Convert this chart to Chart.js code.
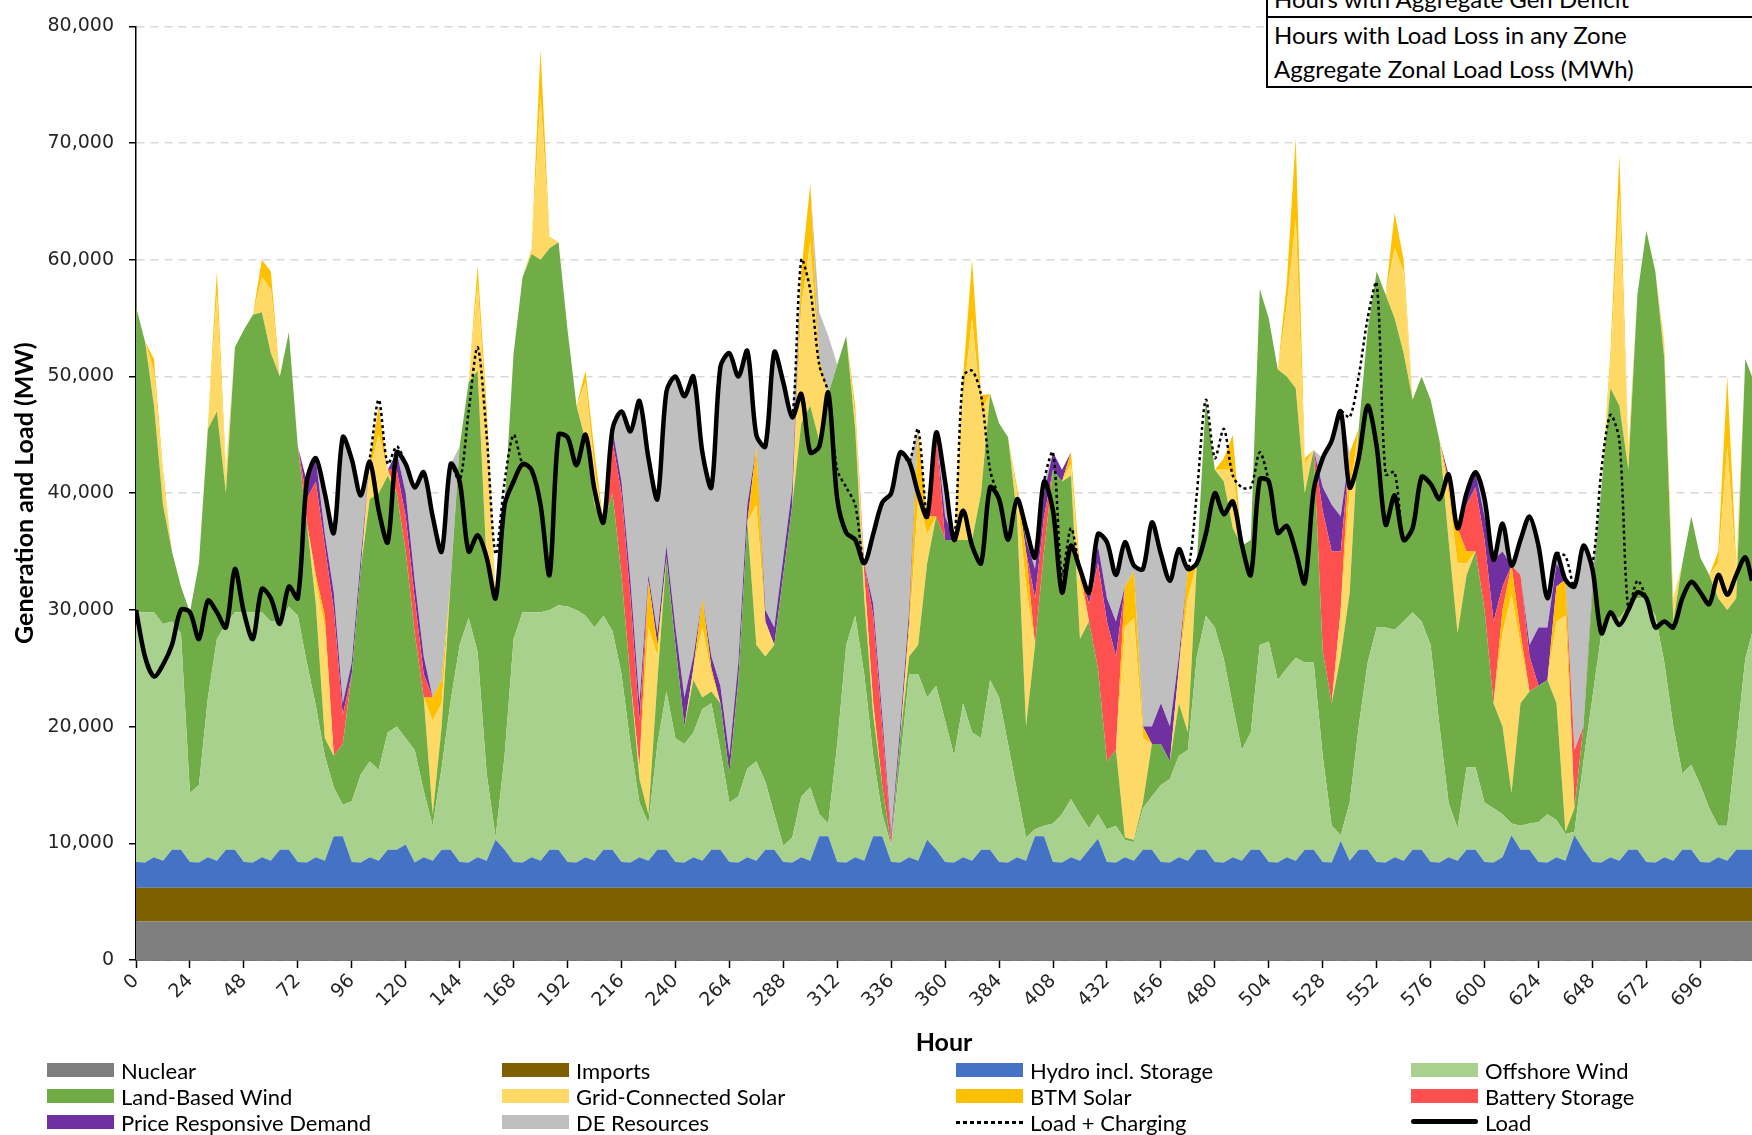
<!DOCTYPE html>
<html>
<head>
<meta charset="utf-8">
<title>Generation and Load</title>
<script src="https://cdn.jsdelivr.net/npm/chart.js@4.4.1/dist/chart.umd.min.js"></script>
<style>
  html, body { margin: 0; padding: 0; background: #fff; }
  #wrap { position: relative; width: 1752px; height: 1135px; overflow: hidden; }
  #chart { position: absolute; left: 0; top: 0; }
  #stats { position: absolute; left: 1266px; top: -16px; width: 620px; background: #fff;
           border-left: 2px solid #000; border-bottom: 2px solid #000; font: 24px Lato, sans-serif; color: #000; }
  #stats div { height: 34px; line-height: 34px; padding-left: 6px; white-space: nowrap; }
  #stats div.first { height: 32px; line-height: 30px; border-bottom: 2px solid #000; }
  .key { position: absolute; height: 26px; line-height: 26px; font: 22px Lato, sans-serif; color: #000; white-space: nowrap; }
  .key .sw { position: absolute; left: 0; top: 6px; width: 67px; height: 14px; }
  .key .sw.dots { top: 12px; height: 3px; background: repeating-linear-gradient(90deg, #000 0 4px, transparent 4px 7px); }
  .key .sw.solid { top: 10px; height: 5px; border-radius: 3px; background: #000; }
  .key .txt { position: absolute; left: 74px; top: 0; }
</style>
</head>
<body>
<div id="wrap">
  <canvas id="chart" width="1752" height="1135"></canvas>
  <div id="stats">
    <div class="first">Hours with Aggregate Gen Deficit</div>
    <div>Hours with Load Loss in any Zone</div>
    <div>Aggregate Zonal Load Loss (MWh)</div>
  </div>
  <div id="legend"></div>
</div>
<script>
// hour of the month, sampled every 4 hours (last point at the right edge)
var hours = [];
for (var h = 0; h <= 716; h += 4) hours.push(h);
hours.push(719);

// flat baseload blocks (MW)
var NUCLEAR_MW = 3300;
var IMPORTS_MW = 2900;

// one row per day: hours +0, +4, +8, +12, +16, +20 (MW)
var hydro = [
  2200,2150,2600,2300,3250,3250,
  2200,2150,2600,2300,3250,3250,
  2200,2150,2600,2300,3250,3250,
  2200,2150,2600,2300,4400,4400,
  2200,2150,2600,2300,3250,3250,
  3700,2150,2600,2300,3250,3250,
  2200,2150,2600,2300,4100,3250,
  2200,2150,2600,2300,3250,3250,
  2200,2150,2600,2300,3250,3250,
  2200,2150,2600,2300,3250,3250,
  2200,2150,2600,2300,3250,3250,
  2200,2150,2600,2300,3250,3250,
  2200,2150,2600,2300,4400,4400,
  2200,2150,2600,2300,4400,4400,
  2200,2150,2600,2300,4100,3250,
  2200,2150,2600,2300,3250,3250,
  2200,2150,2600,2300,4400,4400,
  2200,2150,2600,2300,3250,4200,
  2200,2150,2600,2300,3250,3250,
  2200,2150,2600,2300,3250,3250,
  2200,2150,2600,2300,3250,3250,
  2200,2150,2600,2300,3250,3250,
  2200,2150,4000,2300,3250,3250,
  2200,2150,2600,2300,3250,3250,
  2200,2150,2600,2300,3250,3250,
  2200,2150,2600,4500,3250,3250,
  2200,2150,2600,2300,4500,3250,
  2200,2150,2600,2300,3250,3250,
  2200,2150,2600,2300,3250,3250,
  2200,2150,2600,2300,3250,3250,
  3250
];

var offshoreWind = [
  21400,21450,21000,20300,19550,18550,
  5900,6650,13700,19000,19350,20350,
  21400,21450,21000,20500,19550,20850,
  21100,17150,13000,9000,4200,2700,
  5200,7550,8200,7800,10050,10550,
  9100,9650,5700,3000,7050,12750,
  18600,20950,17600,7500,200,8050,
  19100,21450,21000,21300,20550,20950,
  21900,21650,20700,20000,20050,18750,
  16100,10150,4700,3200,9050,13550,
  10600,10150,10700,13000,12550,8550,
  5100,5650,7600,8500,5850,3050,
  1400,2150,5200,6300,1900,1100,
  10100,18650,20700,16000,6900,1900,
  1400,8650,15700,16000,12200,14050,
  12100,9150,13200,11000,9550,14550,
  14100,10150,5700,2000,600,900,
  3300,4150,5000,4000,1850,2100,
  2800,3150,1500,1600,3550,4550,
  6600,7150,8700,9500,16550,20050,
  20100,17450,13000,9500,10050,17550,
  18900,15650,16200,17400,16050,16050,
  9100,3150,500,5000,10550,16050,
  20100,20150,19500,20500,20350,19550,
  18600,11650,4700,2800,7050,7050,
  5100,4650,3700,1000,2050,2250,
  3400,4150,3200,2300,300,7550,
  14100,19650,20700,20800,20850,21550,
  22600,21150,16700,11500,6550,7250,
  6600,4650,2700,3000,9050,16350,
  18550
];

var landWind = [
  26200,23200,17700,10200,6000,4000,
  15500,19000,23000,19500,11200,22700,
  24200,25500,25700,23000,21000,23500,
  14500,12000,8700,1500,2700,5200,
  10900,17600,22500,23700,22000,20000,
  16000,10000,8000,1000,3500,10300,
  17000,20200,24100,18000,20500,21500,
  24500,28700,30700,30200,31000,31100,
  23700,17500,15000,10500,8000,11800,
  8500,5500,2000,800,5500,11500,
  8000,1500,4500,1000,1000,4000,
  2500,10000,21100,10000,10700,14500,
  23200,28500,32000,32700,32000,36800,
  32500,26500,16000,6500,3500,2500,
  0,2000,1500,2500,11500,14500,
  15500,18500,14000,16500,21000,24500,
  23500,26300,23500,9500,15800,23500,
  30300,28500,27700,15000,17700,12500,
  5800,6500,200,200,500,4500,
  3500,1500,4500,1500,8000,18500,
  13500,15200,15200,17500,16500,30500,
  27700,26600,25000,23100,14500,18200,
  9000,10500,15300,18000,25500,28500,
  30500,28500,26700,23000,18200,21000,
  21000,24500,22500,16700,16500,18500,
  16500,9000,7500,2600,10500,11300,
  11700,11500,10000,200,2000,3000,
  9000,12500,19500,18200,11700,26000,
  31500,29500,26000,9000,18000,21300,
  19500,20000,19500,18500,12500,25700,
  22000
];

var gridSolar = [
  0,0,3000,2500,0,0,
  0,0,500,10000,1500,0,
  0,0,3000,5500,0,0,
  0,0,2000,9500,0,0,
  0,0,2500,5000,500,0,
  0,0,0,8000,2000,0,
  0,0,7500,12000,500,0,
  0,0,500,14000,1000,0,
  0,0,5000,3000,0,0,
  0,0,1000,16000,2000,0,
  0,0,1000,6000,1500,0,
  0,0,0,12000,3000,0,
  0,0,10000,14000,6000,0,
  0,0,1000,2000,1000,0,
  0,0,2000,12500,2500,0,
  0,0,12000,19000,7000,0,
  0,0,2000,12000,0,0,
  0,0,1000,5000,0,0,
  0,0,18000,19000,5500,0,
  0,0,3000,11500,0,0,
  0,1000,5000,0,0,0,
  0,0,6000,14500,2500,0,
  0,0,4000,8500,0,0,
  0,0,6000,7000,0,0,
  0,0,4000,6000,1000,0,
  0,0,8000,17000,5000,0,
  0,0,7000,18500,0,0,
  0,0,2000,18000,2000,0,
  0,0,1500,2000,0,0,
  0,0,3000,14000,2500,0,
  0
];

var btmSolar = [
  0,0,1000,500,0,0,
  0,0,0,2000,500,0,
  0,0,1500,1500,0,0,
  0,0,500,1000,0,0,
  0,0,700,2500,0,0,
  0,0,0,2000,2000,0,
  0,0,1500,1500,0,0,
  0,0,0,4000,0,0,
  0,0,1000,1500,0,0,
  0,0,0,4000,1000,0,
  0,0,0,2500,500,0,
  0,0,0,5000,0,0,
  0,0,3000,5000,1000,0,
  0,0,1000,0,0,0,
  0,0,1000,6000,1500,0,
  0,0,2000,5000,1400,0,
  0,0,500,3000,0,0,
  0,0,1000,1000,0,0,
  0,0,3500,4000,1000,0,
  0,0,0,2500,0,0,
  0,1000,3000,0,0,0,
  0,0,2000,7000,500,0,
  0,0,0,3500,0,0,
  0,0,3000,1000,0,0,
  0,0,1000,3000,1000,0,
  0,0,2000,2500,1000,0,
  0,0,3000,3100,0,0,
  0,0,1000,3500,0,0,
  0,0,0,0,0,0,
  0,0,1000,6000,500,0,
  0
];

var battery = [
  0,0,0,0,0,0,
  0,0,0,0,0,0,
  0,0,0,0,0,0,
  0,2000,8000,6000,12500,2500,
  0,0,0,0,0,2000,
  3000,3000,2000,0,0,0,
  0,0,0,0,0,0,
  0,0,0,0,0,0,
  0,0,0,0,0,4500,
  7000,7000,4000,0,0,0,
  0,0,0,0,0,0,
  0,0,0,0,0,0,
  0,0,0,0,0,0,
  0,0,0,1000,7500,5000,
  500,0,0,0,0,7200,
  0,0,0,0,0,0,
  0,0,0,0,4000,3000,
  0,0,0,0,1500,9000,
  12000,8000,0,0,0,0,
  0,0,0,0,0,0,
  0,0,0,0,0,0,
  0,0,0,0,0,0,
  12000,13000,5000,0,0,0,
  0,0,0,0,0,0,
  0,0,0,0,4000,5500,
  6000,7000,2000,0,5000,3000,
  0,0,0,0,5000,0,
  0,0,0,0,0,0,
  0,0,0,0,0,0,
  0,0,0,0,0,0,
  0
];

var priceResponsive = [
  0,0,0,0,0,0,
  0,0,0,0,0,0,
  0,0,0,0,0,0,
  0,1500,2000,1000,1500,1000,
  1000,1000,0,0,0,1500,
  2000,1500,1500,0,0,0,
  0,0,0,0,0,0,
  0,0,0,0,0,0,
  0,0,0,0,0,1000,
  1000,1500,1500,500,1000,1000,
  1500,2500,1000,0,1000,1500,
  1500,1500,1500,0,1000,1500,
  1500,1500,0,0,0,0,
  0,0,0,0,1000,1000,
  500,1000,1000,0,0,0,
  2000,0,0,0,0,0,
  0,0,0,1000,2500,2000,
  1500,1000,0,0,1000,1500,
  2000,3000,0,0,0,1500,
  3500,3000,1000,0,0,0,
  0,0,0,0,0,0,
  0,0,0,0,0,0,
  2000,4000,3000,0,0,0,
  0,0,0,0,0,0,
  0,0,600,0,1000,1300,
  2000,5300,3000,0,0,1000,
  5000,4500,2000,0,0,0,
  500,0,0,0,0,0,
  0,0,0,0,0,0,
  0,0,0,0,0,0,
  0
];

var deResources = [
  0,0,0,0,0,0,
  0,0,0,0,0,0,
  0,0,0,0,0,0,
  0,0,0,3500,5100,22800,
  17400,5300,0,0,0,0,
  2500,8000,15800,15500,11000,10000,
  0,0,0,0,0,0,
  0,0,0,0,0,0,
  0,0,0,0,0,0,
  6000,12800,25900,10000,11500,13200,
  21500,25800,24000,12500,14500,27300,
  34500,24500,13200,1000,14000,23600,
  15000,6000,0,0,4000,5000,
  0,0,0,0,6000,18200,
  29200,23500,12700,0,0,0,
  3000,0,0,0,0,0,
  0,0,0,1000,1000,1000,
  0,0,0,0,0,1000,
  4800,4000,3800,500,13500,17500,
  12800,12500,9200,0,0,0,
  0,0,0,0,0,0,
  0,0,0,0,0,0,
  2500,5500,9000,0,0,0,
  0,0,0,0,0,0,
  0,0,0,0,0,0,
  1500,0,2400,0,3000,11000,
  7000,2500,800,0,14000,15500,
  1500,0,0,0,0,0,
  0,0,0,0,0,0,
  0,0,0,0,0,0,
  0
];

var load = [
  30000,26000,24300,25300,27000,30000,
  29800,27500,30800,29800,28500,33500,
  29800,27500,31800,31000,28800,32000,
  31000,41000,43000,40000,36600,44800,
  42900,39800,42700,38500,35800,43500,
  42500,40500,41800,38000,35000,42500,
  41000,35000,36400,34500,31000,39000,
  41000,42500,42000,39000,33000,45000,
  44800,42400,45000,40300,37500,45500,
  47000,45300,47900,43000,39500,48700,
  50000,48300,50000,43500,40500,50800,
  52000,50000,52200,45000,44000,52100,
  49500,46500,48500,43500,44000,48600,
  39500,36600,36000,34000,36500,39200,
  40000,43500,42700,40000,38000,45200,
  41000,36000,38500,35500,34000,40500,
  39500,36000,39500,37000,34500,41000,
  38500,31500,35500,33500,31500,36500,
  35800,33000,35800,33800,33500,37500,
  34800,32500,35200,33500,34000,36500,
  40000,38200,39300,35600,33000,41200,
  41000,36600,37200,35000,32300,40300,
  43000,44500,47000,40500,43000,47500,
  44000,37300,39800,36000,37000,41400,
  40800,39500,41600,37000,40000,41800,
  39500,34300,37400,33800,36000,38000,
  35500,31000,34800,32600,32000,35500,
  33500,28000,29800,28700,30000,31500,
  31000,28500,29000,28500,31000,32400,
  31500,30500,33000,31300,33000,34500,
  32500
];

// storage charging on top of load (MW)
var charging = [
  0,0,0,0,0,0,
  0,0,0,0,0,0,
  0,0,0,0,0,0,
  0,0,0,0,0,0,
  0,0,300,9500,6700,500,
  0,0,0,0,0,0,
  0,12000,16100,10500,3800,2000,
  4000,0,0,0,0,0,
  0,0,0,0,0,0,
  0,0,0,0,0,0,
  0,0,0,0,0,0,
  0,0,0,0,0,0,
  0,0,11500,13900,7000,0,
  2500,3900,3000,0,0,0,
  0,0,0,5500,0,0,
  0,0,11500,15000,14400,1500,
  0,0,0,0,0,0,
  5000,1500,1500,0,0,0,
  0,0,0,0,0,0,
  0,0,0,0,6000,11500,
  3000,7300,2200,4900,7500,2300,
  0,0,0,0,0,0,
  0,0,0,6000,7000,7500,
  14000,4300,2000,0,0,0,
  0,0,0,0,0,0,
  0,0,0,0,0,0,
  0,0,0,2000,0,0,
  500,14000,16900,15800,0,1000,
  0,0,0,0,0,0,
  0,0,0,0,0,0,
  0
];

var nuclear = hours.map(function () { return NUCLEAR_MW; });
var imports = hours.map(function () { return IMPORTS_MW; });
var loadPlusCharging = load.map(function (v, i) { return v + charging[i]; });

function area(label, color, values, first) {
  return {
    label: label, data: values,
    backgroundColor: color, borderColor: color, borderWidth: 0,
    fill: first ? 'origin' : '-1',
    pointRadius: 0, tension: 0, stack: 'gen', order: 2
  };
}

var config = {
  type: 'line',
  data: {
    labels: hours,
    datasets: [
      area('Nuclear', '#7f7f7f', nuclear, true),
      area('Imports', '#7f6000', imports),
      area('Hydro incl. Storage', '#4472c4', hydro),
      area('Offshore Wind', '#a9d18e', offshoreWind),
      area('Land-Based Wind', '#70ad47', landWind),
      area('Grid-Connected Solar', '#ffd966', gridSolar),
      area('BTM Solar', '#ffc000', btmSolar),
      area('Battery Storage', '#ff5050', battery),
      area('Price Responsive Demand', '#7030a0', priceResponsive),
      area('DE Resources', '#bfbfbf', deResources),
      {
        label: 'Load + Charging', data: loadPlusCharging,
        borderColor: '#000', borderWidth: 2.5, borderDash: [3, 3],
        fill: false, pointRadius: 0, tension: 0.3, stack: 'lc', order: 1
      },
      {
        label: 'Load', data: load,
        borderColor: '#000', borderWidth: 4.5,
        fill: false, pointRadius: 0, tension: 0.3, stack: 'load', order: 0
      }
    ]
  },
  options: {
    responsive: false,
    animation: false,
    layout: { padding: { left: 0, right: 0, top: 18, bottom: 77 } },
    plugins: {
      legend: { display: false },
      tooltip: { enabled: false }
    },
    scales: {
      x: {
        type: 'linear', min: 0, max: 719,
        afterFit: function (scale) { scale.height = 98; },
        ticks: {
          stepSize: 24, includeBounds: false, autoSkip: false,
          minRotation: 45, maxRotation: 45, padding: 2,
          font: { family: 'DejaVu Sans', size: 19 }, color: '#262626'
        },
        grid: { drawOnChartArea: false, drawTicks: true, tickLength: 8, tickColor: '#000', tickWidth: 1.5 },
        border: { display: true, color: '#000', width: 1.5 },
        title: {
          display: true, text: 'Hour', color: '#000',
          font: { family: 'Lato', size: 25, weight: 'bold' },
          padding: { top: 0, bottom: 0 }
        }
      },
      y: {
        stacked: true, min: 0, max: 80000,
        afterFit: function (scale) { scale.width = 136; },
        ticks: {
          stepSize: 10000, padding: 15,
          callback: function (v) { return v.toLocaleString('en-US'); },
          font: { family: 'DejaVu Sans', size: 19 }, color: '#262626'
        },
        grid: { color: '#d9d9d9', lineWidth: 1.5, tickLength: 7, tickColor: '#000', tickWidth: 1.5 },
        border: { display: true, color: '#000', width: 1.5, dash: [8, 6] },
        title: {
          display: true, text: 'Generation and Load (MW)', color: '#000',
          font: { family: 'Lato', size: 25, weight: 'bold' },
          padding: { top: 10, bottom: 0 }
        }
      }
    }
  }
};

window.onload = function () {
  var ctx = document.getElementById('chart').getContext('2d');
  window.genChart = new Chart(ctx, config);

  // legend, 4 columns x 3 rows, same order as the datasets
  var colX = [47, 502, 956, 1411];
  var rowY = [1057, 1083, 1109];
  var box = document.getElementById('legend');
  config.data.datasets.forEach(function (ds, i) {
    var item = document.createElement('div');
    item.className = 'key';
    item.style.left = colX[i % 4] + 'px';
    item.style.top = rowY[Math.floor(i / 4)] + 'px';
    var sw = document.createElement('span');
    if (ds.label === 'Load + Charging') sw.className = 'sw dots';
    else if (ds.label === 'Load') sw.className = 'sw solid';
    else { sw.className = 'sw'; sw.style.background = ds.backgroundColor; }
    var txt = document.createElement('span');
    txt.className = 'txt';
    txt.textContent = ds.label;
    item.appendChild(sw);
    item.appendChild(txt);
    box.appendChild(item);
  });
};
</script>
</body>
</html>
